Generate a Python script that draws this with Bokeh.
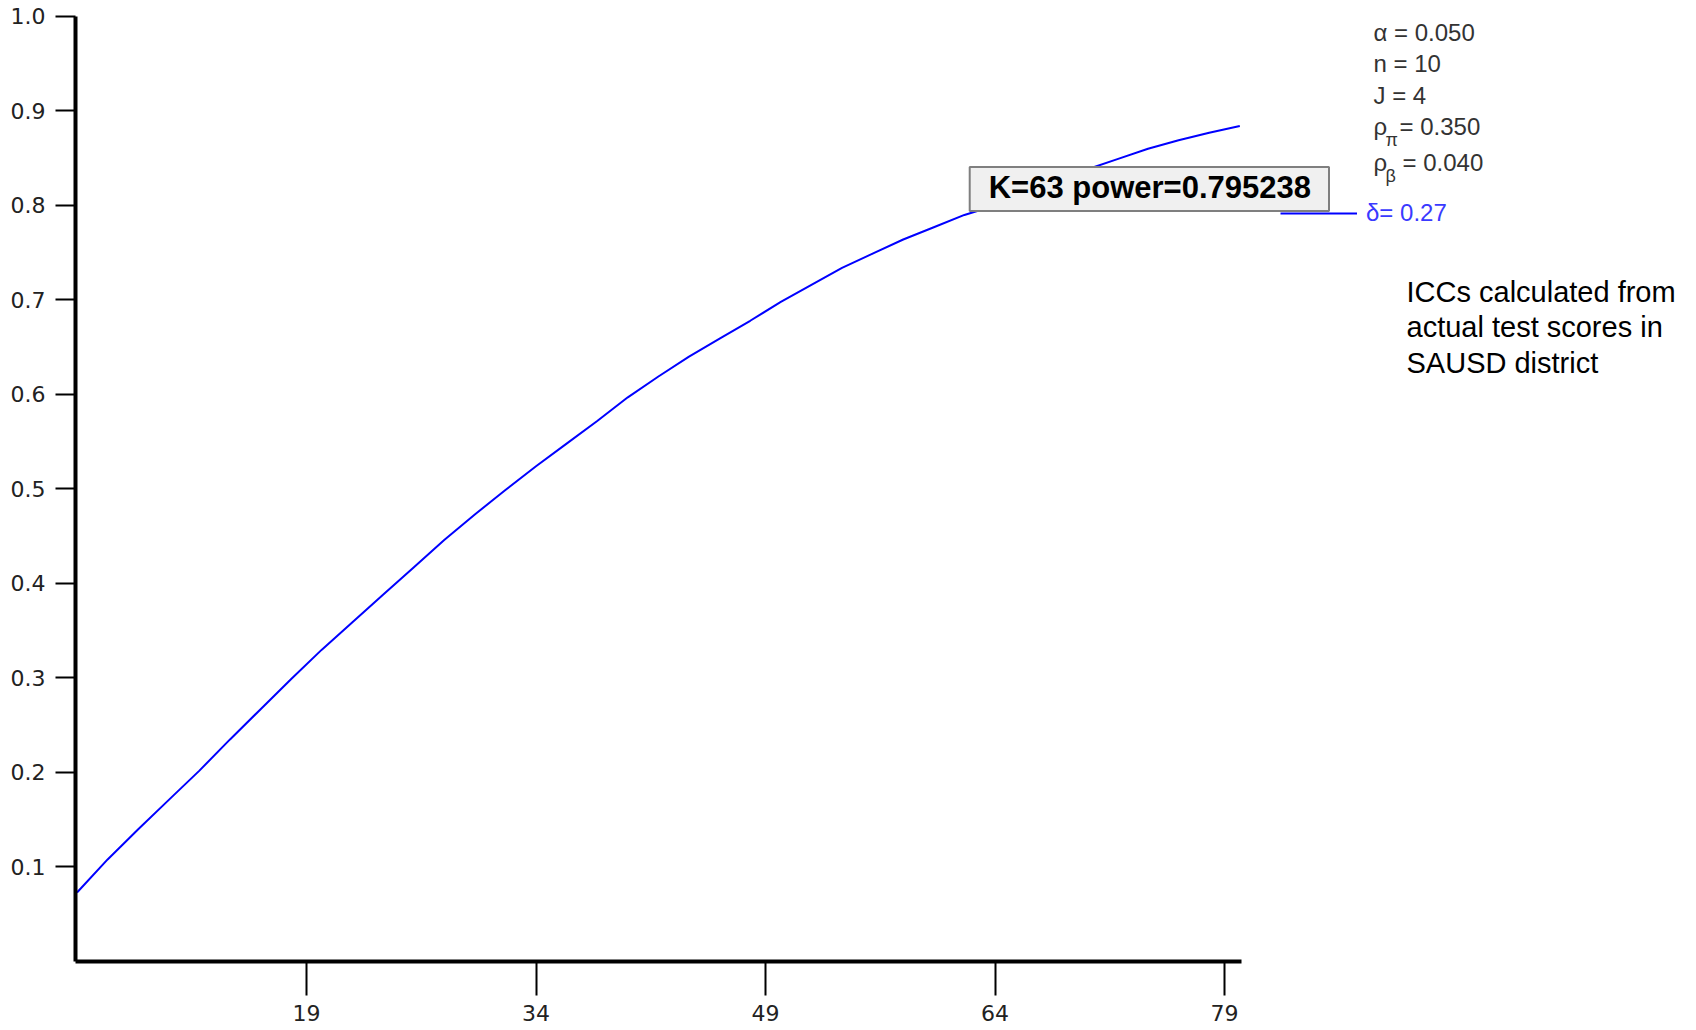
from bokeh.plotting import figure
from bokeh.models import Range1d, FixedTicker, Label, Legend, LegendItem
from bokeh.core.properties import value
from bokeh.embed import file_html
from bokeh.resources import INLINE

# ---- data ----
clusters_k = [4, 6, 8, 10, 12, 14, 16, 18, 20, 22, 24, 26, 28, 30, 32, 34, 36, 38,
              40, 42, 44, 46, 48, 50, 52, 54, 56, 58, 60, 62, 63, 66, 70, 72, 74,
              76, 78, 80]
power = [0.073, 0.108, 0.140, 0.171, 0.202, 0.235, 0.267, 0.299, 0.330, 0.359,
         0.388, 0.417, 0.446, 0.473, 0.499, 0.524, 0.548, 0.572, 0.597, 0.619,
         0.640, 0.659, 0.678, 0.698, 0.716, 0.734, 0.749, 0.764, 0.777, 0.790,
         0.795, 0.814, 0.838, 0.849, 0.860, 0.869, 0.877, 0.884]
x_ticks = [19, 34, 49, 64, 79]
y_ticks = [0.1, 0.2, 0.3, 0.4, 0.5, 0.6, 0.7, 0.8, 0.9, 1.0]
y_tick_labels = ["0.1", "0.2", "0.3", "0.4", "0.5", "0.6", "0.7", "0.8", "0.9", "1.0"]
param_lines = ["α = 0.050", "n = 10", "J = 4"]
rho_pi_text = "= 0.350"
rho_beta_text = "= 0.040"
delta_label = "δ= 0.27"
caption_lines = ["ICCs calculated from", "actual test scores in", "SAUSD district"]
tooltip_k = 63
tooltip_power = 0.795238

# ---- layout (canvas sits at the page's top-left corner) ----
FRAME_LEFT = 75
FRAME_BOTTOM = 961


def sx(px):
    return px - FRAME_LEFT


def sy(py):
    return FRAME_BOTTOM - py


p = figure(width=1696, height=1030, title=None,
           x_range=Range1d(3.9, 109.85), y_range=Range1d(0, 1.0169),
           output_backend="svg", toolbar_location=None,
           min_border_left=FRAME_LEFT, min_border_right=0, min_border_top=0,
           min_border_bottom=1030 - FRAME_BOTTOM)
p.outline_line_color = None
p.xgrid.visible = False
p.ygrid.visible = False
p.background_fill_color = "white"

AX_FONT = "DejaVu Sans"
for ax in (p.xaxis[0], p.yaxis[0]):
    ax.axis_line_width = 4
    ax.axis_line_color = "black"
    ax.major_tick_line_width = 2
    ax.major_tick_line_color = "black"
    ax.major_tick_in = 0
    ax.minor_tick_in = 0
    ax.minor_tick_out = 0
    ax.major_label_text_font = AX_FONT
    ax.major_label_text_font_size = "22px"
    ax.major_label_text_color = "#222222"

p.xaxis.ticker = FixedTicker(ticks=x_ticks)
p.xaxis.bounds = (3.9, 80.1)
p.xaxis.major_tick_out = 34
p.xaxis.major_label_standoff = 9

p.yaxis.ticker = FixedTicker(ticks=y_ticks)
p.yaxis.bounds = (0, 1.0)
p.yaxis.major_tick_out = 20
p.yaxis.major_label_standoff = 10
p.yaxis.major_label_overrides = {t: s for t, s in zip(y_ticks, y_tick_labels)}

curve = p.line(clusters_k, power, line_color="#0000ff", line_width=2)

PARAM_FONT = "Liberation Sans"
PARAM_SIZE = "24px"

# legend line for delta
legend = Legend(items=[LegendItem(label=value(delta_label), renderers=[curve])],
                location=(sx(1280), sy(214) - 13), glyph_width=77, glyph_height=20,
                label_standoff=9, padding=0, margin=0, spacing=0,
                border_line_color=None, background_fill_alpha=0,
                label_text_color="#3a3aff", label_text_font=PARAM_FONT,
                label_text_font_size=PARAM_SIZE)
p.add_layout(legend)

PARAM_COLOR = "#333333"


def add_text(txt, px, py, size=PARAM_SIZE, font=PARAM_FONT, color=PARAM_COLOR):
    p.add_layout(Label(x=sx(px), y=sy(py), x_units="screen", y_units="screen",
                       text=txt, text_font=font, text_font_size=size,
                       text_color=color, text_baseline="middle", text_align="left"))


for txt, yy in zip(param_lines, [32, 63, 95]):
    add_text(txt, 1373, yy)

# rho rows with subscripts
for mid_y, sub, rest, rest_x in [(126, "π", rho_pi_text, 1399), (162, "β", rho_beta_text, 1402)]:
    add_text("ρ", 1373, mid_y)
    add_text(sub, 1385, mid_y + 13, size="18px")
    add_text(rest, rest_x, mid_y)

# caption
for i, line in enumerate(caption_lines):
    add_text(line, 1406, 291 + i * 35.7, size="29px", font="Liberation Sans", color="black")

# tooltip box anchored at the highlighted point
tip = Label(x=tooltip_k, y=tooltip_power, x_offset=-10, y_offset=-1,
            text=f"K={tooltip_k} power={tooltip_power}",
            text_font="Liberation Sans", text_font_style="bold", text_font_size="31px",
            text_color="black", text_align="left", text_baseline="bottom",
            background_fill_color="#f0f0f0", border_line_color="#7f7f7f",
            border_line_width=2,
            padding=dict(left=19, right=18, top=3, bottom=6))
p.add_layout(tip)

open("out.html", "w").write(file_html(p, INLINE))
